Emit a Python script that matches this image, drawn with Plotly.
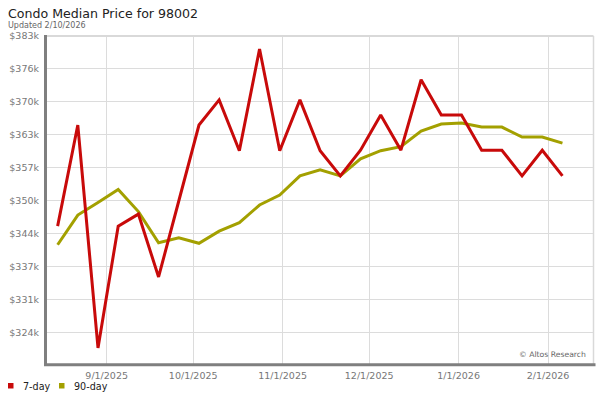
import plotly.graph_objects as go

# ---- data ----
dates = ["2025-08-15", "2025-08-22", "2025-08-29", "2025-09-05", "2025-09-12",
         "2025-09-19", "2025-09-26", "2025-10-03", "2025-10-10", "2025-10-17",
         "2025-10-24", "2025-10-31", "2025-11-07", "2025-11-14", "2025-11-21",
         "2025-11-28", "2025-12-05", "2025-12-12", "2025-12-19", "2025-12-26",
         "2026-01-02", "2026-01-09", "2026-01-16", "2026-01-23", "2026-01-30",
         "2026-02-06"]
price_7day = [345.2, 365.3, 321.0, 345.2, 347.6, 335.1, 350.2, 365.3, 370.3, 360.2,
              380.4, 360.2, 370.3, 360.2, 355.2, 360.3, 367.3, 360.3, 374.3, 367.3,
              367.3, 360.3, 360.3, 355.2, 360.3, 355.2]
price_90day = [341.5, 347.4, 349.9, 352.5, 348.1, 341.9, 342.9, 341.8, 344.2, 345.9,
               349.4, 351.4, 355.2, 356.4, 355.2, 358.6, 360.2, 361.0, 364.1, 365.5,
               365.7, 364.9, 364.9, 362.9, 362.9, 361.7]
series_names = ["7-day", "90-day"]

y_tick_vals = [324.05, 330.6, 337.15, 343.7, 350.25, 356.8, 363.35, 369.9, 376.45, 383.0]
y_tick_text = ["$324k", "$331k", "$337k", "$344k", "$350k", "$357k", "$363k", "$370k", "$376k", "$383k"]
x_tick_vals = ["2025-09-01", "2025-10-01", "2025-11-01", "2025-12-01", "2026-01-01", "2026-02-01"]
x_tick_text = ["9/1/2025", "10/1/2025", "11/1/2025", "12/1/2025", "1/1/2026", "2/1/2026"]

# ---- style / layout ----
W, H = 600, 400
L, R, T, B = 47, 7, 36, 36
PW, PH = W - L - R, H - T - B
RED = "#c80a0a"
OLIVE = "#a3a000"
FONT = "DejaVu Sans"


def px(x):
    return (x - L) / PW


def py(y):
    return (H - B - y) / PH


fig = go.Figure()
fig.add_trace(go.Scatter(x=dates, y=price_90day, mode="lines", name=series_names[1],
                         line=dict(color=OLIVE, width=3), showlegend=False))
fig.add_trace(go.Scatter(x=dates, y=price_7day, mode="lines", name=series_names[0],
                         line=dict(color=RED, width=3), showlegend=False))

shapes = [
    # light border top/right
    dict(type="line", xref="paper", yref="paper", x0=px(L), x1=px(593.5), y0=py(36), y1=py(36),
         line=dict(color="#d9d9d9", width=2)),
    dict(type="line", xref="paper", yref="paper", x0=px(593.5), x1=px(593.5), y0=py(36), y1=py(364),
         line=dict(color="#d9d9d9", width=1.5)),
    # dark left / bottom axis lines
    dict(type="line", xref="paper", yref="paper", x0=px(45.5), x1=px(45.5), y0=py(35), y1=py(366),
         line=dict(color="#7f7f7f", width=3)),
    dict(type="line", xref="paper", yref="paper", x0=px(44), x1=px(595.5), y0=py(364.8), y1=py(364.8),
         line=dict(color="#7f7f7f", width=3)),
    # legend squares
    dict(type="rect", xref="paper", yref="paper", x0=px(8), x1=px(13.5), y0=py(388.5), y1=py(383),
         fillcolor=RED, line=dict(width=0)),
    dict(type="rect", xref="paper", yref="paper", x0=px(59), x1=px(64.5), y0=py(388.5), y1=py(383),
         fillcolor=OLIVE, line=dict(width=0)),
]

annotations = [
    dict(text="Condo Median Price for 98002", xref="paper", yref="paper", x=px(6), y=py(13),
         xanchor="left", yanchor="middle", showarrow=False,
         font=dict(family=FONT, size=12.6, color="#222222")),
    dict(text="Updated 2/10/2026", xref="paper", yref="paper", x=px(6), y=py(25.5),
         xanchor="left", yanchor="middle", showarrow=False,
         font=dict(family=FONT, size=8, color="#666666")),
    dict(text="© Altos Research", xref="paper", yref="paper", x=px(588), y=py(354),
         xanchor="right", yanchor="middle", showarrow=False,
         font=dict(family=FONT, size=7.7, color="#666666")),
    dict(text=series_names[0], xref="paper", yref="paper", x=px(21), y=py(386),
         xanchor="left", yanchor="middle", showarrow=False,
         font=dict(family=FONT, size=9.6, color="#222222")),
    dict(text=series_names[1], xref="paper", yref="paper", x=px(72), y=py(386),
         xanchor="left", yanchor="middle", showarrow=False,
         font=dict(family=FONT, size=9.6, color="#222222")),
]

fig.update_layout(
    width=W, height=H,
    margin=dict(l=L, r=R, t=T, b=B, pad=0, autoexpand=False),
    paper_bgcolor="white", plot_bgcolor="white",
    font=dict(family=FONT, size=9.5, color="#777777"),
    shapes=shapes, annotations=annotations,
    showlegend=False,
    xaxis=dict(type="date", range=["2025-08-11 07:40", "2026-02-16 14:10"],
               tickvals=x_tick_vals, ticktext=x_tick_text, automargin=False,
               showgrid=True, gridcolor="#dcdcdc", gridwidth=1,
               zeroline=False, showline=False, ticks="", ticklabelstandoff=4,
               tickfont=dict(family=FONT, size=9.5, color="#777777"), fixedrange=True),
    yaxis=dict(range=[317.8, 383.0], tickvals=y_tick_vals, ticktext=y_tick_text, automargin=False,
               showgrid=True, gridcolor="#dcdcdc", gridwidth=1,
               zeroline=False, showline=False, ticks="", ticklabelstandoff=7,
               tickfont=dict(family=FONT, size=9.5, color="#777777"), fixedrange=True),
)

fig.write_html("out.html", config={"displayModeBar": False},
               post_script="document.body.style.margin='0';document.body.style.overflow='hidden';")
